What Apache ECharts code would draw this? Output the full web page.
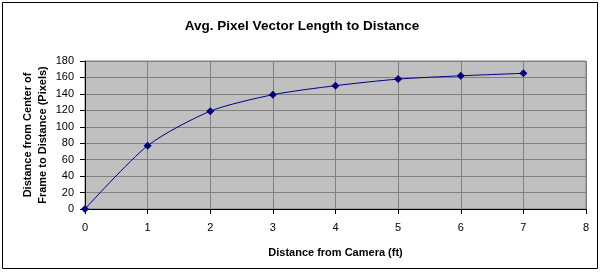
<!DOCTYPE html>
<html>
<head>
<meta charset="utf-8">
<script src="https://cdn.jsdelivr.net/npm/echarts@6/dist/echarts.min.js"></script>
<style>
  html, body { margin: 0; padding: 0; background: #fff; }
  #chart { width: 604px; height: 272px; }
</style>
</head>
<body>
<div id="chart"></div>
<script>
const distanceFt = [0, 1, 2, 3, 4, 5, 6, 7]
const pixelLength = [0, 77, 119, 139, 150, 158, 162, 165]
const titleText = 'Avg. Pixel Vector Length to Distance'
const xName = 'Distance from Camera (ft)'
const yName = 'Distance from Center of\nFrame to Distance (Pixels)'

const chart = echarts.init(document.getElementById('chart'), null, { renderer: 'canvas' })

const font = 'Arial, "Liberation Sans", sans-serif'

chart.setOption({
  animation: false,
  title: {
    text: titleText,
    left: 'center',
    top: 14,
    textStyle: { fontFamily: font, fontSize: 13.5, fontWeight: 'bold', color: '#000' }
  },
  graphic: [{
    type: 'rect',
    shape: { x: 2.5, y: 2.5, width: 595, height: 266 },
    style: { fill: 'none', stroke: '#000', lineWidth: 1 },
    silent: true
  }],
  grid: {
    left: 85, right: 18, top: 61, bottom: 63,
    show: true, backgroundColor: '#c0c0c0', borderColor: '#808080', borderWidth: 1
  },
  xAxis: {
    type: 'value', min: 0, max: 8, interval: 1,
    name: xName, nameLocation: 'middle', nameGap: 38,
    nameTextStyle: { fontFamily: font, fontSize: 11, fontWeight: 'bold', color: '#000' },
    axisLine: { lineStyle: { color: '#000' } },
    axisTick: { show: true, length: 5, lineStyle: { color: '#000' } },
    axisLabel: { fontFamily: font, fontSize: 11, color: '#000', margin: 13 },
    splitLine: { show: true, lineStyle: { color: '#808080' } }
  },
  yAxis: {
    type: 'value', min: 0, max: 180, interval: 20,
    name: yName, nameLocation: 'middle', nameGap: 35, nameRotate: 90,
    nameMoveOverlap: false,
    nameTextStyle: { fontFamily: font, fontSize: 11, fontWeight: 'bold', color: '#000', lineHeight: 15 },
    axisLine: { show: true, lineStyle: { color: '#000' } },
    axisTick: { show: true, length: 5, lineStyle: { color: '#000' } },
    axisLabel: { fontFamily: font, fontSize: 11, color: '#000', margin: 11 },
    splitLine: { show: true, lineStyle: { color: '#808080' } }
  },
  series: [{
    type: 'line',
    data: distanceFt.map((d, i) => [d, pixelLength[i]]),
    smooth: 0.25,
    symbol: 'diamond',
    symbolSize: 8,
    lineStyle: { color: '#000080', width: 1 },
    itemStyle: { color: '#000080' }
  }]
})
</script>
</body>
</html>
